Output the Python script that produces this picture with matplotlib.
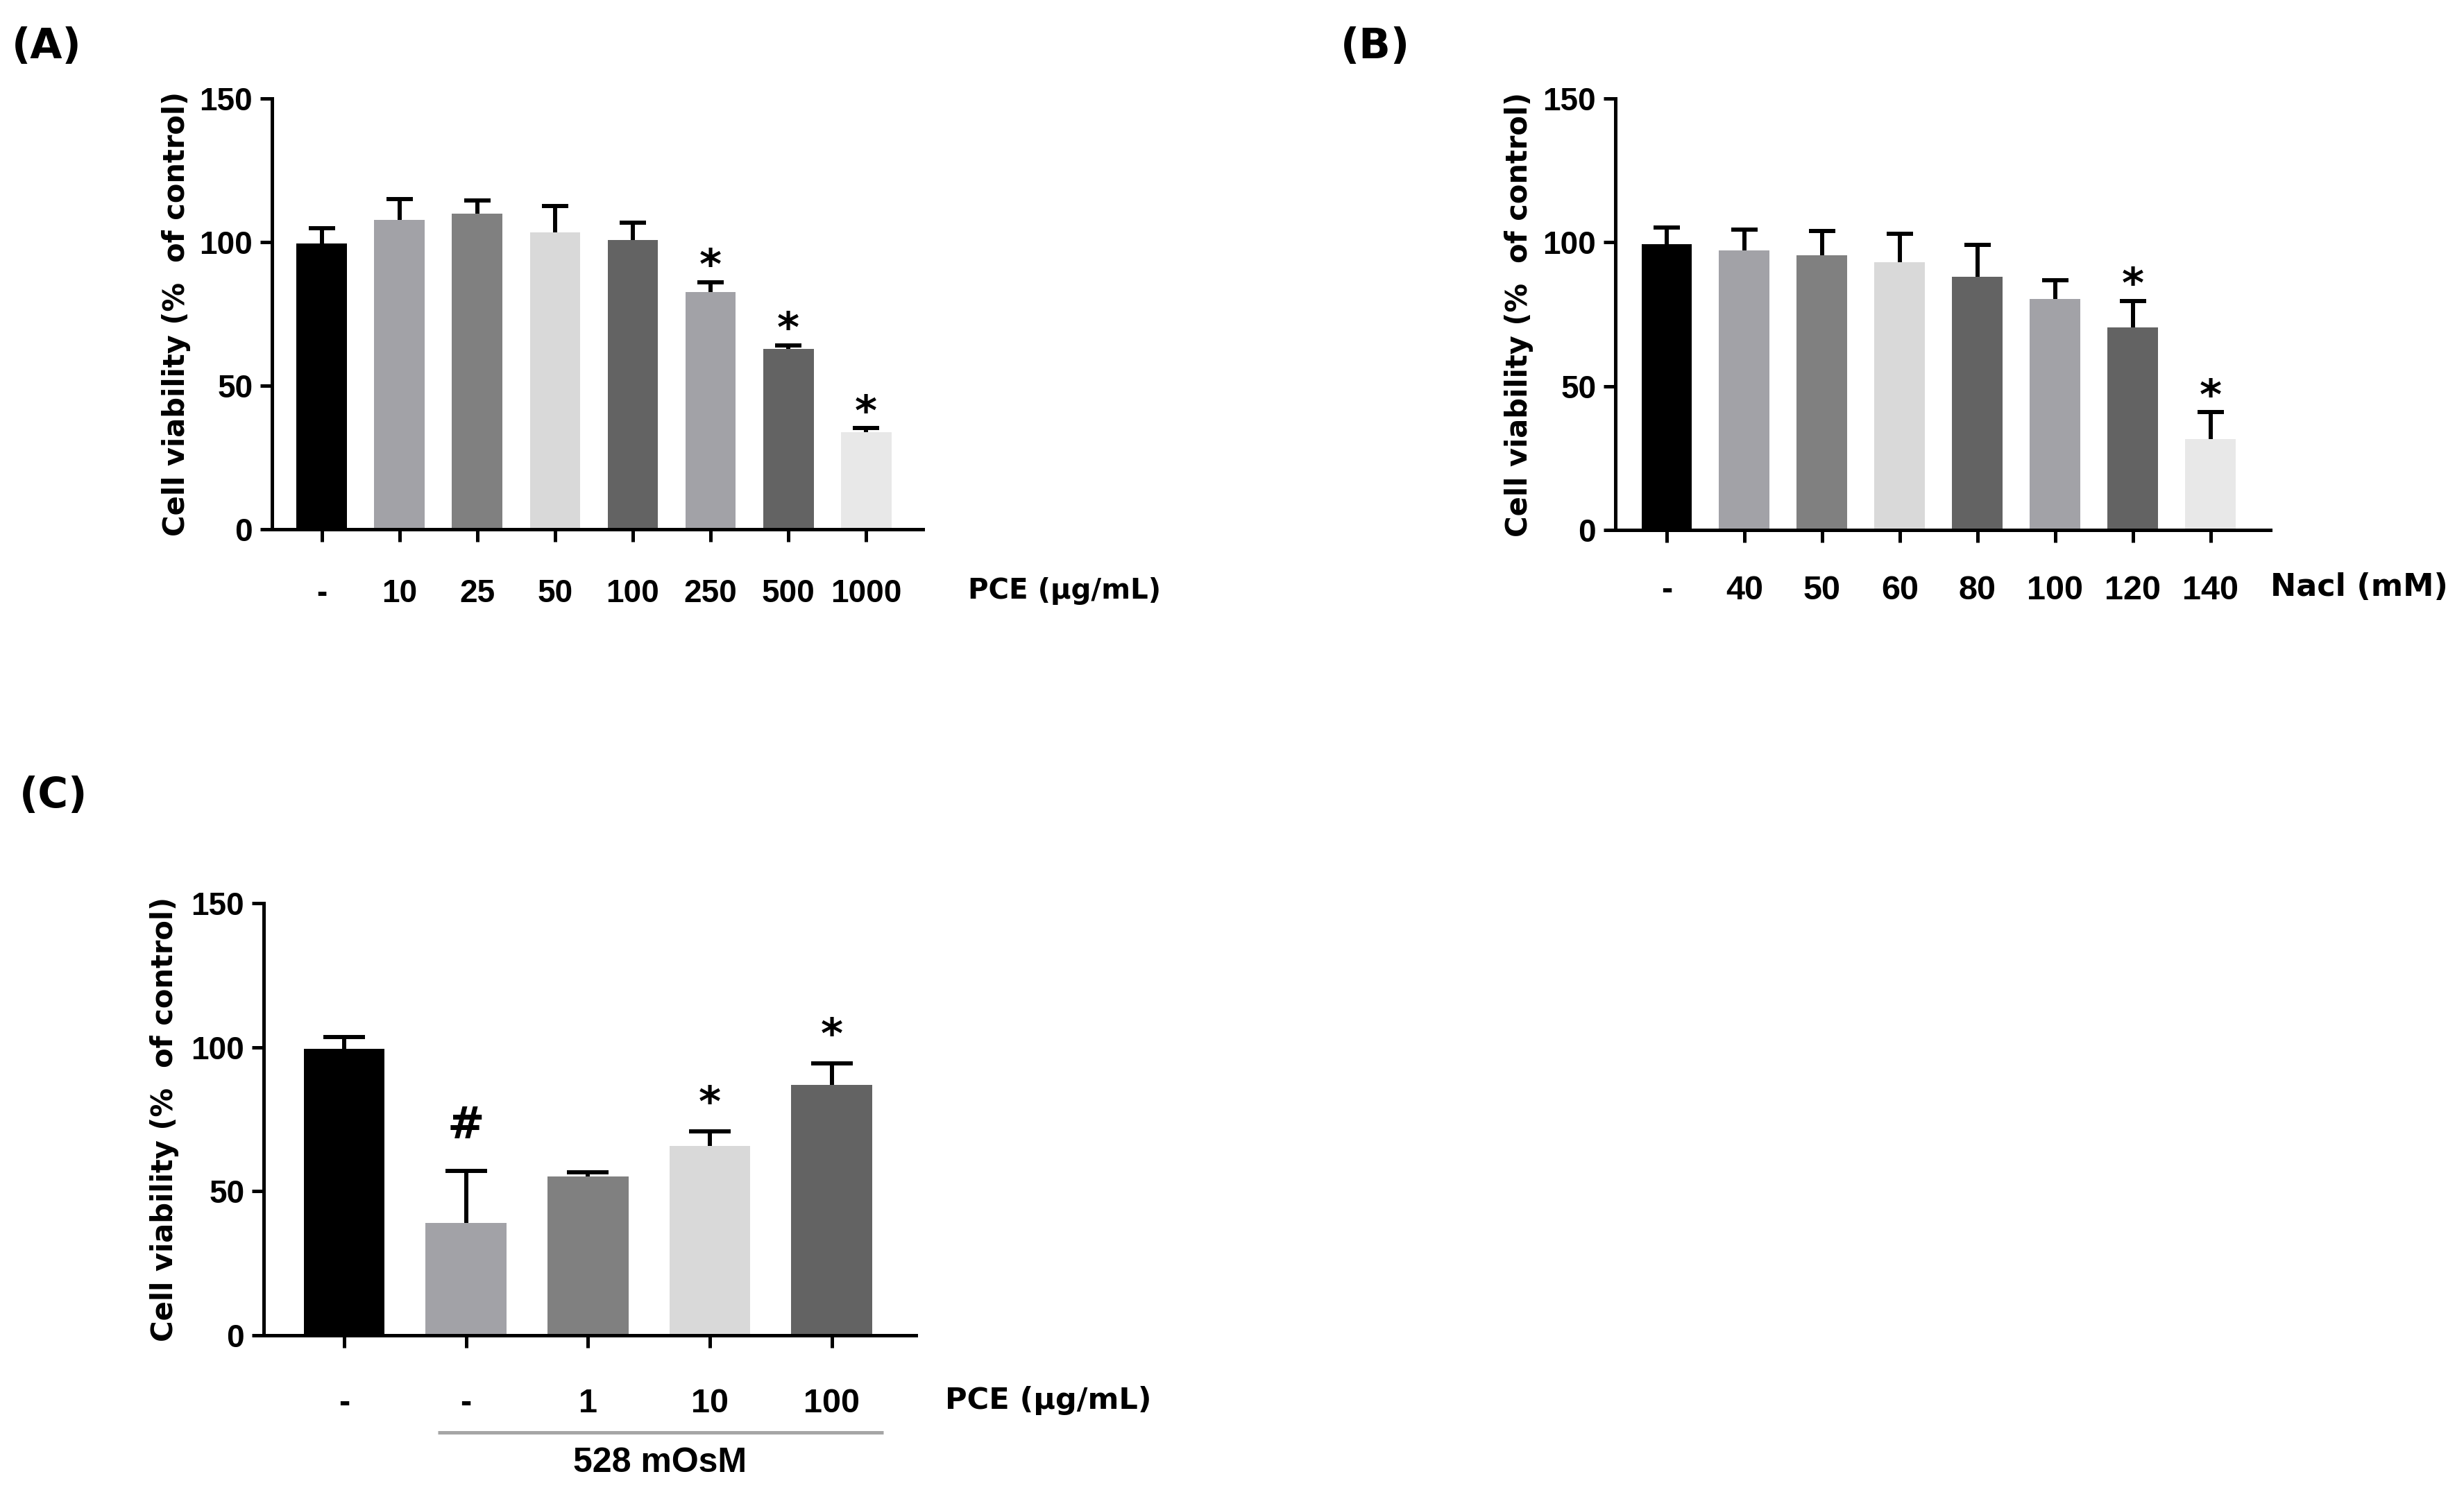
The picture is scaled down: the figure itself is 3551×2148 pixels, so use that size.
import matplotlib
matplotlib.use('Agg')
import matplotlib.pyplot as plt
import numpy as np

# (A) PCE alone
pce_labels = ['-', '10', '25', '50', '100', '250', '500', '1000']
pce_mean = [99.5, 107.8, 109.8, 103.5, 100.8, 82.7, 62.8, 33.8]
pce_err = [5.4, 7.2, 4.6, 9.0, 5.9, 3.4, 1.3, 1.4]
pce_marks = ['', '', '', '', '', '*', '*', '*']

# (B) NaCl
nacl_labels = ['-', '40', '50', '60', '80', '100', '120', '140']
nacl_mean = [99.3, 97.1, 95.6, 93.2, 88.1, 80.4, 70.4, 31.5]
nacl_err = [5.9, 7.3, 8.3, 9.8, 10.9, 6.5, 9.3, 9.4]
nacl_marks = ['', '', '', '', '', '', '*', '*']

# (C) 528 mOsM + PCE
osm_labels = ['-', '-', '1', '10', '100']
osm_mean = [99.5, 39.0, 55.1, 65.8, 86.9]
osm_err = [4.0, 18.0, 1.4, 5.0, 7.4]
osm_marks = ['', '#', '', '*', '*']

bar_colors = ['#000000', '#a2a2a7', '#808080', '#d9d9d9',
              '#636363', '#a2a2a7', '#636363', '#e8e8e8']

plt.rcParams['font.family'] = 'Liberation Sans'
plt.rcParams['font.weight'] = 'bold'

W, H = 3551, 2148
fig = plt.figure(figsize=(W / 100, H / 100), dpi=100)

lw = 3.6
ylab = 'Cell viability (%  of control)'


def panel(ax, labels, mean, err, marks, xlim, width, cap, tick_fs, pad,
          star_dy, hash_dy, ylab_x):
    x = np.arange(len(mean))
    ax.bar(x, mean, width=width, color=bar_colors[:len(mean)], zorder=2)
    # upper error only, so drop the lower caps that sit on the bar tops
    _, caps, _ = ax.errorbar(x, mean, yerr=[np.zeros(len(err)), err],
                             fmt='none', ecolor='black', elinewidth=4.3,
                             capsize=cap, capthick=4.3, zorder=3)
    caps[0].remove()
    for xi, m, e, s in zip(x, mean, err, marks):
        if s == '*':
            ax.annotate(s, (xi, m + e), xytext=(0, star_dy),
                        textcoords='offset points', ha='center',
                        va='baseline', fontsize=44, fontweight='bold',
                        family='DejaVu Sans')
        elif s == '#':
            ax.annotate(s, (xi, m + e), xytext=(0, hash_dy),
                        textcoords='offset points', ha='center',
                        va='baseline', fontsize=46, fontweight='bold',
                        family='DejaVu Sans')
    ax.set_xlim(*xlim)
    ax.set_ylim(0, 150)
    ax.set_yticks([0, 50, 100, 150])
    ax.set_xticks(x)
    ax.set_xticklabels(labels)
    for side in ['top', 'right']:
        ax.spines[side].set_visible(False)
    for side in ['left', 'bottom']:
        ax.spines[side].set_linewidth(lw)
        ax.spines[side].set_capstyle('projecting')
    ax.tick_params(axis='x', length=13, width=lw, pad=pad, labelsize=tick_fs)
    ax.tick_params(axis='y', length=12, width=lw, pad=8, labelsize=33)
    ax.set_ylabel(ylab, fontsize=30, fontweight='bold', family='DejaVu Sans')
    ax.yaxis.set_label_coords(ylab_x, 0.5)


# axes boxes (figure fractions)
axA = fig.add_axes([392 / W, 1 - 763 / H, (1330 - 392) / W, 621 / H])
axB = fig.add_axes([2328 / W, 1 - 764 / H, (3272 - 2328) / W, 622 / H])
axC = fig.add_axes([380 / W, 1 - 1925 / H, (1320 - 380) / W, 623 / H])

panel(axA, pce_labels, pce_mean, pce_err, pce_marks, (-0.64, 7.73), 0.65,
      13.5, 33, 38, 3, 0, -0.125)
panel(axB, nacl_labels, nacl_mean, nacl_err, nacl_marks, (-0.66, 7.77), 0.65,
      13.5, 35, 34, 3, 0, -0.125)
panel(axC, osm_labels, osm_mean, osm_err, osm_marks, (-0.66, 4.69), 0.665,
      21.5, 35, 42, 16, 34, -0.130)

# axis unit labels
axA.text(1.069, -0.143, 'PCE (μg/mL)', transform=axA.transAxes,
         ha='left', va='center', fontsize=29, fontweight='bold',
         family='DejaVu Sans')
axB.text(1.0, -0.133, 'Nacl (mM)', transform=axB.transAxes,
         ha='left', va='center', fontsize=32, fontweight='bold',
         family='DejaVu Sans')
axC.text(1.045, -0.151, 'PCE (μg/mL)', transform=axC.transAxes,
         ha='left', va='center', fontsize=31, fontweight='bold',
         family='DejaVu Sans')

# treatment group bracket under panel C
trans = axC.get_xaxis_transform()
axC.plot([0.77, 4.42], [-0.225, -0.225], transform=trans, color='#a6a6a6',
         lw=3.6, clip_on=False, solid_capstyle='butt')
axC.text(0.607, -0.295, '528 mOsM', transform=axC.transAxes, ha='center',
         va='center', fontsize=36, fontweight='bold')

# panel letters
for lbl, px, py in [('(A)', 17, 67), ('(B)', 1932, 67), ('(C)', 28, 1148)]:
    fig.text(px / W, 1 - py / H, lbl, ha='left', va='center', fontsize=43,
             fontweight='bold', family='DejaVu Sans')

fig.savefig('out.png', dpi=100)
